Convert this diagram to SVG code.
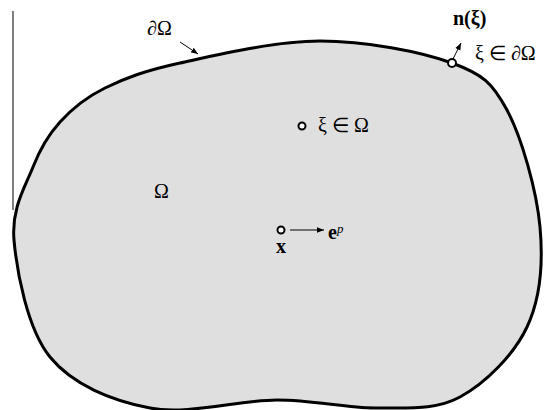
<svg xmlns="http://www.w3.org/2000/svg" width="546" height="410" viewBox="0 0 546 410">
<style>
.t{font-family:"Liberation Serif","Times New Roman",serif;font-size:20px;fill:#000}
.b{font-weight:bold}
.pt{fill:#fff;stroke:#000;stroke-width:2}
.ln{stroke:#000;stroke-width:1;fill:none}
</style>
<defs>
<marker id="ah" viewBox="0 0 10 10" refX="10" refY="5" markerWidth="7" markerHeight="7" markerUnits="userSpaceOnUse" orient="auto">
<path d="M0,1 L10,5 L0,9 z" fill="#000"/>
</marker>
</defs>
<rect width="546" height="410" fill="#fff"/>
<line x1="13" y1="11" x2="13" y2="210" class="ln"/>
<g id="domain">
<path d="M14,240 C11.2,208.3 25.3,186.7 33,167 C40.7,147.3 48,135.2 60,122 C72,108.8 85,97.8 105,88 C125,78.2 144.2,70.8 180,63 C215.8,55.2 274.7,41 320,41 C365.3,41 420.8,51.5 452,63 C483.2,74.5 492.3,82.7 507,110 C521.7,137.3 536.7,190.8 540,227 C543.3,263.2 540.3,298.7 527,327 C513.7,355.3 485,383.5 460,397 C435,410.5 407.5,407.5 377,408 C346.5,408.5 314.8,400 277,400 C239.2,400 187.8,415.2 150,408 C112.2,400.8 72.7,385 50,357 C27.3,329 16.8,271.7 14,240 Z" fill="#dfdfdf" stroke="#000" stroke-width="3"/>
</g>
<g id="connectors">
<line x1="180" y1="42" x2="198" y2="54" class="ln" marker-end="url(#ah)"/>
<line x1="453" y1="59" x2="461" y2="43" class="ln" marker-end="url(#ah)"/>
<line x1="290" y1="230" x2="324" y2="230" class="ln" marker-end="url(#ah)"/>
</g>
<g id="label-boundary"><text x="147" y="35" class="t">∂Ω</text></g>
<g id="label-omega"><text x="154" y="198" class="t">Ω</text></g>
<g id="boundary-point">
<circle cx="452" cy="63" r="4" class="pt"/>
<text x="453" y="25" class="t b">n(ξ)</text>
<text x="475" y="60" class="t">ξ ∈ ∂Ω</text>
</g>
<g id="interior-point">
<circle cx="302" cy="126" r="3.5" class="pt"/>
<text x="318" y="132" class="t">ξ ∈ Ω</text>
</g>
<g id="x-point">
<circle cx="281" cy="230" r="3.5" class="pt"/>
<text x="276" y="253" class="t b">x</text>
<text x="328" y="239" class="t"><tspan class="b">e</tspan><tspan font-style="italic" font-size="13" dy="-6">p</tspan></text>
</g>
</svg>
